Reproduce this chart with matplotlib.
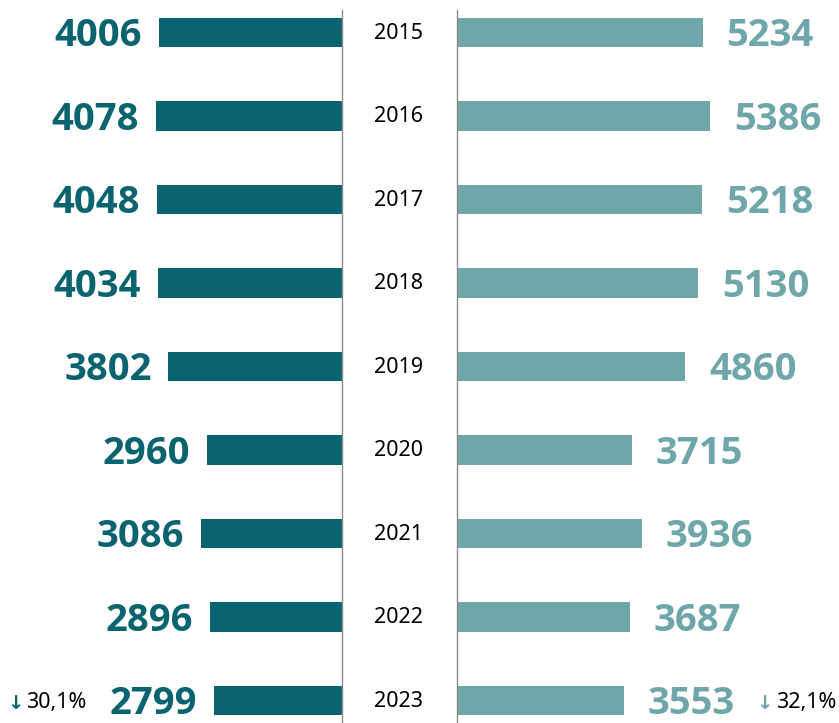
import matplotlib
matplotlib.use("Agg")
import matplotlib.pyplot as plt
from matplotlib import font_manager

years = ["2015", "2016", "2017", "2018", "2019", "2020", "2021", "2022", "2023"]
left_values = [4006, 4078, 4048, 4034, 3802, 2960, 3086, 2896, 2799]
right_values = [5234, 5386, 5218, 5130, 4860, 3715, 3936, 3687, 3553]
left_change = "30,1%"
right_change = "32,1%"

DARK = "#0a6470"
LIGHT = "#6fa6aa"
LINE = "#8a8a8a"

def has_bold(fam):
    for f in font_manager.fontManager.ttflist:
        w = f.weight
        if f.name == fam and (w == "bold" or (isinstance(w, int) and w >= 700)):
            return True
    return False

BOLD_FAM = "DejaVu Sans"
for cand in ["Noto Sans", "Open Sans", "Lato", "Roboto", "Inter"]:
    if has_bold(cand):
        BOLD_FAM = cand
        break
FONT = ["Noto Sans", "DejaVu Sans"]
BFONT = [BOLD_FAM, "DejaVu Sans"]

W, H = 839, 723
fig = plt.figure(figsize=(W / 100, H / 100), dpi=100)

def px_axes(x0, y0_top, x1, y1_bottom):
    return fig.add_axes([x0 / W, 1 - y1_bottom / H, (x1 - x0) / W, (y1_bottom - y0_top) / H])

ylim = (8.272, -0.267)
pos = list(range(len(years)))
bh = 0.353

axl = px_axes(0, 10, 342, 723)
axl.barh(pos, left_values, height=bh, color=DARK)
axl.set_xlim(342 / 0.0457, 0)
axl.set_ylim(*ylim)
for s in ["left", "top", "bottom"]:
    axl.spines[s].set_visible(False)
axl.spines["right"].set_color(LINE)
axl.spines["right"].set_linewidth(1.0)
axl.set_xticks([]); axl.set_yticks([])
axl.patch.set_alpha(0)
for p, v in zip(pos, left_values):
    axl.annotate(str(v), (v, p), xytext=(-12, 0.5), textcoords="offset points",
                 ha="right", va="center_baseline", fontsize=27.5, fontweight="bold",
                 color=DARK, family=BFONT)

axr = px_axes(457, 10, 839, 723)
axr.barh(pos, right_values, height=bh, color=LIGHT)
axr.set_xlim(0, 382 / 0.047)
axr.set_ylim(*ylim)
for s in ["right", "top", "bottom"]:
    axr.spines[s].set_visible(False)
axr.spines["left"].set_color(LINE)
axr.spines["left"].set_linewidth(1.0)
axr.set_xticks([]); axr.set_yticks([])
axr.patch.set_alpha(0)
for p, v in zip(pos, right_values):
    axr.annotate(str(v), (v, p), xytext=(17, 0.5), textcoords="offset points",
                 ha="left", va="center_baseline", fontsize=27.5, fontweight="bold",
                 color=LIGHT, family=BFONT)

for p, y in zip(pos, years):
    axl.annotate(y, (0, p), xytext=(41, 1),
                 textcoords="offset points", ha="center", va="center_baseline",
                 fontsize=15.5, color="black", family=FONT)

last = pos[-1]
axl.annotate("↓", (0, last), xycoords=("axes fraction", "data"), xytext=(5, -1),
             textcoords="offset points", ha="left", va="center_baseline", fontsize=14,
             color=DARK, family=["DejaVu Sans"], fontweight="bold")
axl.annotate(left_change, (0, last), xycoords=("axes fraction", "data"), xytext=(19, 0),
             textcoords="offset points", ha="left", va="center_baseline", fontsize=15.5,
             color="black", family=FONT)
axr.annotate("↓", (1, last), xycoords=("axes fraction", "data"), xytext=(-48, -1),
             textcoords="offset points", ha="right", va="center_baseline", fontsize=14,
             color=LIGHT, family=["DejaVu Sans"], fontweight="bold")
axr.annotate(right_change, (1, last), xycoords=("axes fraction", "data"), xytext=(-2, 0),
             textcoords="offset points", ha="right", va="center_baseline", fontsize=15.5,
             color="black", family=FONT)

fig.savefig("out.png", dpi=100, facecolor="white")
